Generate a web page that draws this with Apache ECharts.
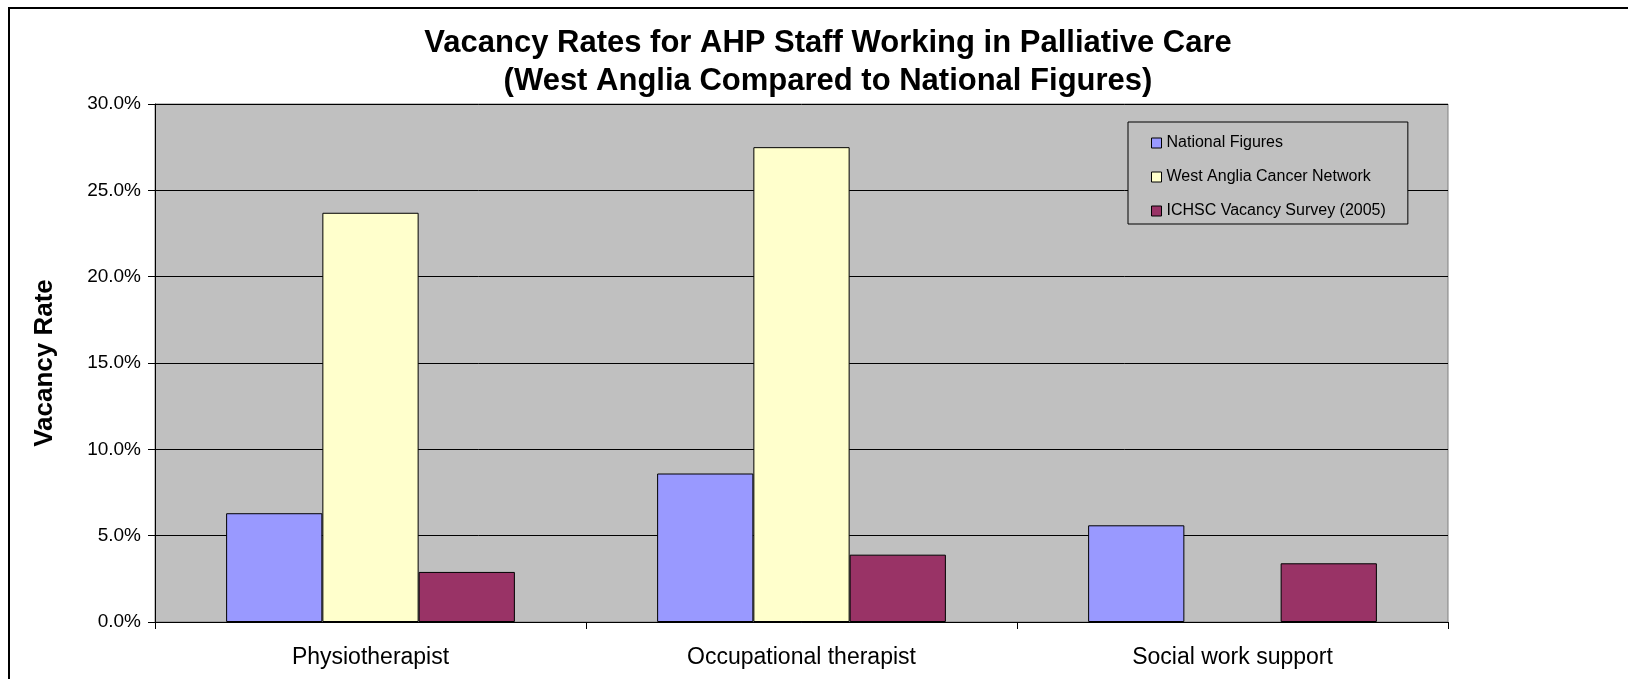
<!DOCTYPE html>
<html>
<head>
<meta charset="utf-8">
<script src="https://cdn.jsdelivr.net/npm/echarts@6/dist/echarts.min.js"></script>
<style>
html,body{margin:0;padding:0;background:#fff;}
#chart{width:1628px;height:679px;}
</style>
</head>
<body>
<div id="chart"></div>
<script>
const categories = ['Physiotherapist', 'Occupational therapist', 'Social work support'];
const seriesNames = ['National Figures', 'West Anglia Cancer Network', 'ICHSC Vacancy Survey (2005)'];
const nationalFigures = [0.063, 0.086, 0.056];
const westAnglia = [0.237, 0.275, null];
const ichsc = [0.029, 0.039, 0.034];
const yTicks = [0, 0.05, 0.10, 0.15, 0.20, 0.25, 0.30];

const colors = ['#9999FF', '#FFFFCC', '#993366'];
const font = 'Arial, "Liberation Sans", sans-serif';

const chart = echarts.init(document.getElementById('chart'));
const seriesData = [nationalFigures, westAnglia, ichsc];

chart.setOption({
  animation: false,
  backgroundColor: '#ffffff',
  title: {
    text: 'Vacancy Rates for AHP Staff Working in Palliative Care\n(West Anglia Compared to National Figures)',
    left: 823,
    textAlign: 'center',
    top: 19,
    textStyle: {
      fontFamily: font, fontWeight: 'bold', fontSize: 31, lineHeight: 38, color: '#000'
    }
  },
  graphic: [{
    type: 'rect',
    shape: { x: 9, y: 8, width: 1700, height: 800 },
    style: { fill: 'none', stroke: '#000', lineWidth: 2 },
    silent: true, z: -1
  }],
  legend: {
    orient: 'vertical',
    left: 1128, top: 122,
    padding: [13, 22, 5, 23],
    itemWidth: 10, itemHeight: 10, itemGap: 18,
    backgroundColor: '#C0C0C0',
    borderColor: '#000', borderWidth: 1,
    textStyle: { fontFamily: font, fontSize: 16, color: '#000' },
    icon: 'rect',
    data: seriesNames.map((n, i) => ({ name: n, itemStyle: { color: colors[i], borderColor: '#000', borderWidth: 1 } }))
  },
  grid: {
    left: 155, right: 180, top: 104, bottom: 57,
    show: true, backgroundColor: '#C0C0C0', borderColor: '#808080', borderWidth: 1
  },
  xAxis: {
    type: 'category',
    data: categories,
    axisLine: { show: true, lineStyle: { color: '#000', width: 1 } },
    axisTick: { show: true, length: 7, inside: false, lineStyle: { color: '#000' } },
    axisLabel: { fontFamily: font, fontSize: 23, color: '#000', margin: 24 }
  },
  yAxis: {
    type: 'value',
    min: 0, max: 0.3, interval: 0.05,
    name: 'Vacancy Rate',
    nameLocation: 'middle',
    nameGap: 97,
    nameTextStyle: { fontFamily: font, fontWeight: 'bold', fontSize: 26, color: '#000' },
    axisLine: { show: true, lineStyle: { color: '#000', width: 1 } },
    axisTick: { show: true, length: 7, lineStyle: { color: '#000' } },
    axisLabel: {
      fontFamily: font, fontSize: 19, color: '#000', margin: 14,
      formatter: v => (v * 100).toFixed(1) + '%'
    },
    splitLine: { show: true, lineStyle: { color: '#000', width: 1 } }
  },
  series: seriesData.map((d, i) => ({
    name: seriesNames[i],
    type: 'bar',
    data: d,
    barGap: '0%',
    barCategoryGap: '33%',
    itemStyle: { color: colors[i], borderColor: '#000', borderWidth: 1 }
  }))
});
</script>
</body>
</html>
